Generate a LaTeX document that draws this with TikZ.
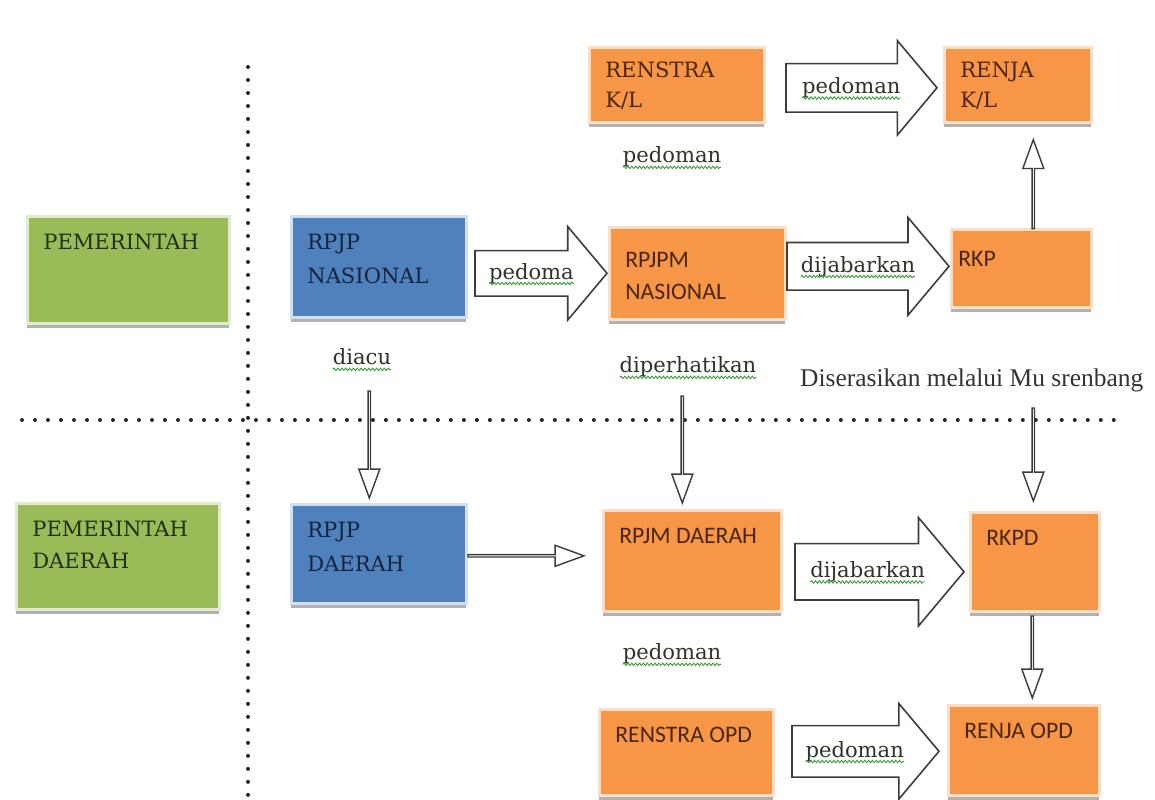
\documentclass[tikz,border=0pt]{standalone}
\usepackage{fontspec}
\setmainfont{DejaVu Serif}
\newfontfamily\calib{Carlito}
\newfontfamily\cambr{Liberation Serif}
\usetikzlibrary{shapes.arrows}
\usetikzlibrary{shadows}
\usetikzlibrary{calc}
\usetikzlibrary{decorations.pathmorphing}

\definecolor{govgreen}{HTML}{9BBB59}
\definecolor{natblue}{HTML}{4F81BD}
\definecolor{docorange}{HTML}{F79646}
\definecolor{greentext}{HTML}{22310F}
\definecolor{bluetext}{HTML}{16233F}
\definecolor{orangetext}{HTML}{4A2608}
\definecolor{squig}{HTML}{3A9A3A}
\definecolor{labeltext}{HTML}{2F3328}
\definecolor{outline}{HTML}{3C3C3C}

% green spell-check wave under a word
\newcommand{\squig}[1]{\tikz[baseline=(sq.base), x=1cm, y=1cm]{%
    \node[shape=rectangle, rotate=0, anchor=base, inner sep=0pt, outer sep=0pt,
        minimum width=0pt, minimum height=0pt, text height=, text depth=] (sq) at (0,0) {#1};
    \draw[squig, line width=0.5pt, decorate,
        decoration={snake, amplitude=0.7pt, segment length=2.2pt}]
        ([yshift=-2.5pt]sq.base west) -- ([yshift=-2.5pt]sq.base east);}}

\begin{document}
\begin{tikzpicture}[x=0.02cm, y=-0.02cm,
            box/.style = {anchor=north west, inner xsep=0.32cm, inner ysep=0.36cm,
                line width=1.5pt,
                drop shadow={shadow xshift=0pt, shadow yshift=-0.1cm, fill=black!50, opacity=.6}},
            govbox/.style = {box, fill=govgreen, draw=govgreen!30, text=greentext,
                font=\fontsize{12}{18}\selectfont},
            planbox/.style = {box, fill=natblue, draw=natblue!25, text=bluetext,
                font=\fontsize{12}{19}\selectfont},
            docbox/.style = {box, fill=docorange, draw=docorange!30, text=orangetext,
                font=\fontsize{12}{17}\selectfont},
            docsans/.style = {docbox, font=\calib\fontsize{13.5}{18}\selectfont},
            blockarrow/.style = {single arrow, draw=outline, fill=white, line width=0.9pt,
                single arrow tip angle=100, inner xsep=2pt, inner ysep=0pt, text=labeltext,
                font=\fontsize{12}{14}\selectfont},
            thinarrow/.style = {single arrow, draw=outline, fill=white, line width=0.8pt,
                inner sep=0pt, minimum width=0.42cm, single arrow head extend=0.11cm,
                single arrow tip angle=40},
            note/.style = {text=labeltext, font=\fontsize{12}{14}\selectfont},
            dotline/.style = {line width=0.08cm, line cap=round,
                dash pattern=on 0pt off 0.26cm, black!85}]
            \useasboundingbox (0,0) rectangle (1155,800);
            \fill[white] (0,0) rectangle (1155,800);
            % separators
            \draw[dotline] (248,67) -- (248,800);
            \draw[dotline] (22,420) -- (1122,420);
            % left column
            \node[govbox] (gov) at (26,215) {\parbox[t][1.42cm][t]{3.40cm}{PEMERINTAH}};
            \node[govbox] (govd) at (15,502) {\parbox[t][1.40cm][t]{3.42cm}{PEMERINTAH\\DAERAH}};
            \node[planbox] (rpjpn) at (290,215) {\parbox[t][1.30cm][t]{2.86cm}{RPJP\\NASIONAL}};
            \node[planbox] (rpjpd) at (290,503) {\parbox[t][1.26cm][t]{2.86cm}{RPJP\\DAERAH}};
            % documents
            \node[docbox, inner ysep=0.3cm] (renstrakl) at (588,46) {\parbox[t][0.90cm][t]{2.86cm}{RENSTRA\\K/L}};
            \node[docbox, inner ysep=0.3cm] (renjakl) at (943,46) {\parbox[t][0.90cm][t]{2.30cm}{RENJA\\K/L}};
            \node[docsans, inner ysep=0.5cm] (rpjmn) at (608,226) {\parbox[t][0.84cm][t]{2.88cm}{RPJPM\\NASIONAL}};
            \node[docsans, inner xsep=0.14cm, inner ysep=0.44cm] (rkp) at (950,228) {\parbox[t][0.68cm][t]{2.52cm}{RKP}};
            \node[docsans] (rpjmd) at (602,509) {\parbox[t][1.30cm][t]{2.92cm}{RPJM DAERAH}};
            \node[docsans] (rkpd) at (969,511) {\parbox[t][1.26cm][t]{1.94cm}{RKPD}};
            \node[docsans] (renstraopd) at (598,708) {\parbox[t][1.00cm][t]{2.84cm}{RENSTRA OPD}};
            \node[docsans] (renjaopd) at (947,704) {\parbox[t][1.08cm][t]{2.38cm}{RENJA OPD}};
            % labels
            \node[note] (diacu) at (362,360) {\squig{diacu}};
            \node[note] (perhatikan) at (688,368) {\squig{diperhatikan}};
            \node[note] (pedomanKL) at (672,158) {\squig{pedoman}};
            \node[note] (pedomanOPD) at (672,655) {\squig{pedoman}};
            \node[note, anchor=west, text=black!80, font=\cambr\fontsize{14.5}{16}\selectfont]
                (serasi) at (794,380) {Diserasikan melalui Mu srenbang};
            % block arrows
            \node[blockarrow, text height=16.7pt, text depth=10pt, minimum height=3.02cm,
                minimum width=1.86cm, single arrow head extend=0.46cm, anchor=tip]
                (pedKL) at ($(renjakl.west)+(-5,3)$) {\squig{pedoman}};
            \node[blockarrow, text height=15.8pt, text depth=9.2pt, minimum height=2.64cm,
                minimum width=1.84cm, single arrow head extend=0.48cm, anchor=tip]
                (pedNas) at (rpjmn.west) {\squig{pedoma}};
            \node[blockarrow, text height=16.4pt, text depth=9.8pt, minimum height=3.24cm,
                minimum width=1.92cm, single arrow head extend=0.50cm, anchor=tip]
                (jabarNas) at ($(rkp.west)+(0,-2)$) {\squig{dijabarkan}};
            \node[blockarrow, text height=18.9pt, text depth=12.3pt, minimum height=3.38cm,
                minimum width=2.14cm, single arrow head extend=0.52cm, anchor=tip]
                (jabarDa) at ($(rkpd.west)+(-4,10)$) {\squig{dijabarkan}};
            \node[blockarrow, text height=17.5pt, text depth=10.9pt, minimum height=2.94cm,
                minimum width=1.88cm, single arrow head extend=0.44cm, anchor=tip]
                (pedOPD) at ($(renjaopd.west)+(-7,1)$) {\squig{pedoman}};
            % thin arrows
            \node[thinarrow, rotate=-90, minimum height=2.14cm, anchor=tip]
                (acuDown) at ($(rpjpd.north)+(-9.5,-3)$) {};
            \node[thinarrow, rotate=-90, minimum height=2.14cm, anchor=tip]
                (perhDown) at ($(rpjmd.north)+(-10,-4)$) {};
            \node[thinarrow, rotate=-90, minimum height=1.86cm, anchor=tip]
                (serasiDown) at ($(rkpd.north)+(-1.5,-8)$) {};
            \node[thinarrow, rotate=-90, minimum height=1.64cm, anchor=tip]
                (rkpdDown) at ($(renjaopd.north)+(8.5,-4)$) {};
            \node[thinarrow, rotate=90, minimum height=1.78cm, anchor=tip]
                (rkpUp) at ($(renjakl.south)+(15.5,14)$) {};
            \node[thinarrow, minimum height=2.32cm, anchor=tip]
                (daerahRight) at ($(rpjmd.west)+(-16,-5)$) {};
        \end{tikzpicture}
\end{document}
